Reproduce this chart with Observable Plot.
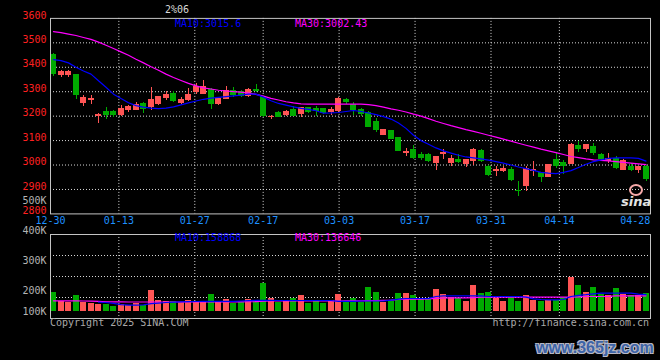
<!DOCTYPE html>
<html><head><meta charset="utf-8">
<script src="https://cdn.jsdelivr.net/npm/d3@7"></script>
<script src="https://cdn.jsdelivr.net/npm/@observablehq/plot@0.6"></script>
<style>
body{margin:0;background:#000;}
#wrap{position:relative;width:660px;height:360px;background:#000;overflow:hidden;font-family:"DejaVu Sans Mono",monospace;font-size:10px;line-height:10px;}
#price,#vol{position:absolute;left:0;}
#price{top:0px}
#vol{top:190px}
.t{position:absolute;white-space:pre;}
</style></head><body>
<div id="wrap">
  <div id="price"></div>
  <div id="vol"></div>
  <div class="t" style="left:165px;top:5px;color:#d8d8d8">2%06</div>
  <div class="t" id="ma10p" style="left:175px;top:19px;color:#0000ff"></div>
  <div class="t" id="ma30p" style="left:295px;top:19px;color:#ff00ff"></div>
  <div class="t" id="ma10v" style="left:175px;top:233px;color:#0000ff"></div>
  <div class="t" id="ma30v" style="left:295px;top:233px;color:#ff00ff"></div>
  <div class="t" style="left:50px;top:318px;color:#a8a8a8">Copyright 2025 SINA.COM</div>
  <div class="t" style="right:11px;top:318px;color:#a8a8a8">http://finance.sina.com.cn</div>
  <div class="t" style="left:629px;top:184px;width:10px;height:8px;border:2px solid #f4a8a8;border-radius:50%"></div>
  <div class="t" style="left:621px;top:195px;color:#e4e4e4;font:italic bold 13px 'DejaVu Sans';line-height:13px">sina</div>
  <div class="t" style="left:536px;top:339px;color:#3d64a8;font:bold 16px 'Liberation Sans';line-height:18px;text-shadow:1px 1px 0 #b8b8c4,-1px -1px 0 #b8b8c4,1px -1px 0 #b8b8c4,-1px 1px 0 #b8b8c4">www.365jz.com</div>
</div>
<script>
// ---------- data ----------
const dates = ["12-30","12-31","01-02","01-03","01-06","01-07","01-08","01-09","01-10","01-13",
"01-14","01-15","01-16","01-17","01-20","01-21","01-22","01-23","01-24","01-27",
"02-05","02-06","02-07","02-10","02-11","02-12","02-13","02-14","02-17","02-18",
"02-19","02-20","02-21","02-24","02-25","02-26","02-27","02-28","03-03","03-04",
"03-05","03-06","03-07","03-10","03-11","03-12","03-13","03-14","03-17","03-18",
"03-19","03-20","03-21","03-24","03-25","03-26","03-27","03-28","03-31","04-01",
"04-02","04-03","04-07","04-08","04-09","04-10","04-11","04-14","04-15","04-16",
"04-17","04-18","04-21","04-22","04-23","04-24","04-25","04-28","04-29","04-30"];

const open = [3450,3368,3368,3366,3254,3268,3203,3217,3216,3204,
3224,3227,3249,3238,3249,3273,3289,3254,3265,3299,
3292,3305,3249,3271,3303,3299,3283,3306,3277,3196,
3212,3204,3224,3208,3231,3228,3227,3217,3220,3266,
3246,3224,3214,3177,3123,3137,3110,3049,3062,3042,
3042,3008,3045,3008,3022,3006,3018,3055,2992,2978,
2974,2978,2895,2916,2977,2968,2953,3022,3009,3005,
3078,3066,3075,3042,3016,3023,2981,2993,2981,2992];
const high = [3455,3388,3386,3368,3285,3285,3211,3235,3224,3244,
3244,3254,3254,3316,3281,3299,3299,3278,3312,3332,
3346,3312,3276,3321,3319,3303,3312,3330,3281,3204,
3217,3222,3240,3235,3235,3240,3231,3235,3277,3272,
3257,3231,3218,3191,3143,3139,3112,3066,3078,3051,
3049,3035,3062,3038,3042,3024,3069,3062,2997,2992,
2992,2988,2934,2992,3015,2970,3004,3047,3019,3090,
3096,3083,3087,3048,3046,3033,3022,3008,2996,2997];
const low = [3362,3360,3359,3269,3240,3248,3168,3186,3194,3200,
3215,3222,3211,3222,3244,3265,3254,3249,3258,3289,
3289,3227,3244,3267,3276,3276,3276,3295,3194,3186,
3194,3200,3197,3194,3211,3197,3208,3204,3213,3247,
3204,3200,3153,3133,3121,3103,3054,3035,3024,3019,
3011,2979,3022,2992,3008,2988,2997,3011,2954,2954,
2968,2934,2873,2893,2954,2927,2947,2985,2961,3002,
3051,3050,3038,3020,3006,2981,2979,2972,2965,2934];
const close = [3372,3382,3380,3285,3273,3270,3206,3204,3205,3227,
3235,3245,3231,3265,3276,3285,3262,3265,3285,3319,
3319,3251,3271,3303,3289,3281,3308,3303,3200,3198,
3197,3216,3201,3231,3217,3223,3215,3224,3268,3258,
3225,3211,3157,3143,3141,3106,3056,3052,3028,3028,
3015,3033,3048,3026,3012,3022,3060,3015,2961,2981,
2985,2941,2893,2984,2979,2951,2998,2998,2995,3083,
3066,3083,3049,3025,3025,2987,3015,2981,2992,2942];

const ma10 = [3431,3427,3418,3400,3385,3372,3345,3318,3290,3272,
3255,3243,3237,3233,3231,3233,3238,3246,3254,3262,
3269,3274,3277,3280,3283,3286,3290,3290,3278,3263,
3252,3245,3238,3232,3228,3222,3212,3213,3215,3219,
3223,3219,3213,3206,3198,3188,3172,3150,3122,3100,
3085,3070,3058,3049,3040,3033,3029,3025,3020,3014,
3008,3000,2992,2985,2978,2970,2967,2965,2970,2977,
2990,3003,3014,3021,3027,3029,3029,3029,3027,3016];
const ma30 = [3546,3542,3536,3530,3522,3514,3503,3490,3477,3463,
3449,3433,3418,3402,3388,3372,3358,3346,3334,3324,
3316,3311,3306,3303,3300,3298,3294,3289,3282,3273,
3266,3259,3254,3250,3249,3249,3249,3249,3249,3249,
3249,3249,3247,3243,3237,3230,3224,3217,3208,3200,
3190,3179,3170,3161,3153,3145,3138,3130,3122,3114,
3106,3098,3089,3081,3073,3065,3058,3051,3043,3035,
3030,3025,3021,3019,3017,3014,3011,3008,3005,3002];

const volume = [193300,164300,160000,183300,160000,156700,153300,153300,146700,153300,
151000,156700,151000,200000,166700,163300,163300,160000,166700,160000,
160000,186700,163300,170000,156700,160000,170000,166700,223300,173300,
160000,163300,173300,183300,156700,166700,156700,166700,186700,160000,
173300,161000,210000,193300,160000,163300,190000,190000,183300,173300,
173300,203300,186700,176700,173300,163300,216700,190000,193300,173300,
163300,176700,163300,183300,166700,163300,166700,166700,176700,243300,
216700,193300,210000,186700,183300,206700,186700,183300,183300,190000];
const volMa10 = [null,null,null,null,null,null,161000,160000,157000,153000,
151000,151000,152000,156000,158000,160000,161000,162000,163000,163300,
164000,164000,164000,164000,164000,165000,166000,167000,167000,167000,
166700,166700,166700,166700,166700,166700,166700,166700,164000,164000,
164000,165000,165000,165000,165000,168000,171000,173300,173300,173300,
174000,180000,182300,182300,182300,182300,182300,182000,180000,180000,
180000,180000,180000,178000,172000,170000,169000,169000,170000,180000,
184000,186000,189000,191000,191000,191000,191000,191000,188000,186000];
const volMa30 = [165700,165700,165500,165300,165000,164500,163500,162500,162000,161800,
161700,161700,161700,161700,161700,161700,161700,161700,161700,161700,
161700,161700,162000,162000,162000,162000,162500,163000,164500,165000,
165000,165000,165000,165000,165000,165000,165000,165000,165000,165700,
165700,165700,166000,166500,167000,168000,170000,171000,171000,171000,
172000,174000,175000,175700,175700,175700,176500,177500,177700,177700,
177700,177700,177700,177700,177700,177700,177700,177700,177700,177700,
178500,180000,180000,180000,180500,182000,182300,182300,182300,182300];

const dateTickIdx = [0,9,19,28,38,48,58,67,77];
const gridIdx = [9,19,28,38,48,58,67];
const priceTicks = [3600,3500,3400,3300,3200,3100,3000,2900,2800];
const priceGrid = [3500,3400,3300,3200,3100,3000,2900];
const volTickVals = [500000,400000,300000,200000,100000];
const volTickText = ["500K","400K","300K","200K","100K"];
const legendPrice = ["MA10:3015.6","MA30:3002.43"];
const legendVol = ["MA10:158868","MA30:136646"];

const VOL_MIN = 106667, VOL_MAX = 386667, VOL_BASE = 130000;

// ---------- build ----------
const N = close.length;
const idx = d3.range(N);
const RED = "#ff5555", GREEN = "#00aa00", GRID = "#d8d8d8", FRAME = "#c4c4c4";
const candles = idx.map(i => ({i, o: open[i], h: high[i], l: low[i], c: close[i], v: volume[i],
  col: close[i] >= open[i] ? RED : GREEN}));
const xDomain = [-0.4, N - 0.4];
const tickPos = k => k * N / (N - 1) - 0.4;
const FONT = "DejaVu Sans Mono";
const baseStyle = {background: "transparent", color: "#ccc", fontFamily: FONT, fontSize: "10px", overflow: "visible"};

document.getElementById("ma10p").textContent = legendPrice[0];
document.getElementById("ma30p").textContent = legendPrice[1];
document.getElementById("ma10v").textContent = legendVol[0];
document.getElementById("ma30v").textContent = legendVol[1];

const price = Plot.plot({
  width: 660, height: 235,
  marginLeft: 50, marginRight: 10, marginTop: 17.9, marginBottom: 21.6,
  style: baseStyle,
  x: {domain: xDomain, axis: null},
  y: {domain: [2800, 3600], axis: null},
  color: {type: "identity"},
  marks: [
    Plot.ruleY(priceGrid, {stroke: GRID, strokeDasharray: "1,2"}),
    Plot.ruleX(gridIdx, {x: tickPos, stroke: GRID, strokeDasharray: "1,2"}),
    Plot.ruleX(candles, {x: "i", y1: "l", y2: "h", stroke: "col", shapeRendering: "crispEdges"}),
    Plot.rect(candles, {x1: d => d.i - 0.4, x2: d => d.i + 0.4, y1: "o", y2: "c", fill: "col",
      insetTop: -0.6, insetBottom: -0.6, shapeRendering: "crispEdges"}),
    Plot.line(idx, {x: i => i, y: i => ma30[i], stroke: "#ff00ff", strokeWidth: 1.2}),
    Plot.line(idx, {x: i => i, y: i => ma10[i], stroke: "#0000ff", strokeWidth: 1.2}),
    Plot.frame({stroke: FRAME}),
    Plot.text(priceTicks, {y: d => d, text: d => String(d), frameAnchor: "left", dx: -4, dy: -3,
      textAnchor: "end", fill: "#ff2020"}),
    Plot.text(dateTickIdx, {x: tickPos, text: k => dates[k], frameAnchor: "bottom", dy: 10, fill: "#1e90ff"})
  ]
});
document.getElementById("price").appendChild(price);

const vol = Plot.plot({
  width: 660, height: 140,
  marginLeft: 50, marginRight: 10, marginTop: 44, marginBottom: 12,
  style: baseStyle,
  x: {domain: xDomain, axis: null},
  y: {domain: [VOL_MIN, VOL_MAX], axis: null},
  color: {type: "identity"},
  marks: [
    Plot.ruleY([1, 2, 3], {y: k => VOL_MIN + (VOL_MAX - VOL_MIN) * k / 4, stroke: GRID, strokeDasharray: "1,2"}),
    Plot.ruleX(gridIdx, {x: tickPos, stroke: GRID, strokeDasharray: "1,2"}),
    Plot.rect(candles, {x1: d => d.i - 0.4, x2: d => d.i + 0.4, y1: VOL_BASE, y2: "v", fill: "col",
      shapeRendering: "crispEdges"}),
    Plot.line(idx, {x: i => i, y: i => volMa30[i], stroke: "#ff00ff", strokeWidth: 1.2}),
    Plot.line(idx, {x: i => i, y: i => volMa10[i], stroke: "#0000ff", strokeWidth: 1.2}),
    Plot.frame({stroke: FRAME}),
    Plot.text(d3.range(volTickVals.length), {y: j => Math.max(volTickVals[j], VOL_BASE), text: j => volTickText[j],
      frameAnchor: "left", dx: -4, dy: 0.5, textAnchor: "end", fill: "#b4b4b4"})
  ]
});
document.getElementById("vol").appendChild(vol);
</script>
</body></html>
